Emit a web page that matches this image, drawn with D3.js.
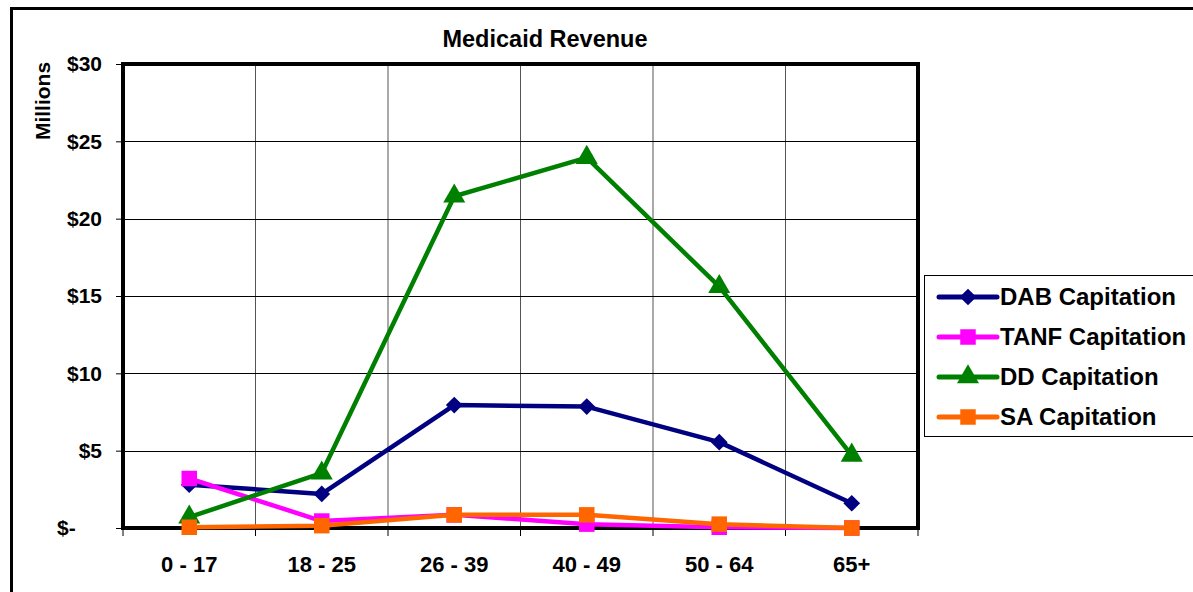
<!DOCTYPE html>
<html>
<head>
<meta charset="utf-8">
<script src="https://cdn.jsdelivr.net/npm/d3@7"></script>
<style>
  body { margin: 0; background: #fff; }
  text { font-family: Arial, "Liberation Sans", sans-serif; font-weight: bold; }
</style>
</head>
<body>
<div id="chart"></div>
<script>
// Data (values in millions of dollars)
var ageGroups = ["0 - 17", "18 - 25", "26 - 39", "40 - 49", "50 - 64", "65+"];
var dabValues = [2.8, 2.2, 7.95, 7.85, 5.55, 1.6];
var tanfValues = [3.2, 0.45, 0.85, 0.25, 0.05, 0.0];
var ddValues = [0.7, 3.55, 21.45, 23.95, 15.6, 4.7];
var saValues = [0.05, 0.15, 0.85, 0.85, 0.25, 0.0];
var seriesNames = ["DAB Capitation", "TANF Capitation", "DD Capitation", "SA Capitation"];
var yTicks = [0, 5, 10, 15, 20, 25, 30];

var svgWidth = 1193;
var svgHeight = 592;

var margin = { top: 64, left: 123 };
var width = 795;
var height = 464;

var svg = d3.select("#chart")
  .append("svg")
  .attr("width", svgWidth)
  .attr("height", svgHeight);

// outer chart border (cut off at the right and bottom)
svg.append("path")
  .attr("d", "M11.5," + svgHeight + "V8.5H" + svgWidth)
  .attr("fill", "none")
  .attr("stroke", "#000")
  .attr("stroke-width", 3);

var chartGroup = svg.append("g")
  .attr("transform", `translate(${margin.left}, ${margin.top})`);

var xScale = d3.scaleBand()
  .domain(ageGroups)
  .range([0, width]);

var yScale = d3.scaleLinear()
  .domain([0, 30])
  .range([height, 0]);

// vertical grid lines
chartGroup.append("g")
  .selectAll("line")
  .data(ageGroups.slice(1))
  .enter()
  .append("line")
  .attr("x1", d => xScale(d))
  .attr("x2", d => xScale(d))
  .attr("y1", 0)
  .attr("y2", height)
  .attr("stroke", "#555")
  .attr("stroke-width", 1);

// horizontal grid lines
chartGroup.append("g")
  .selectAll("line")
  .data(yTicks.slice(1, -1))
  .enter()
  .append("line")
  .attr("x1", 0)
  .attr("x2", width)
  .attr("y1", d => Math.round(yScale(d)) + 0.5)
  .attr("y2", d => Math.round(yScale(d)) + 0.5)
  .attr("stroke", "#000")
  .attr("stroke-width", 1);

// y axis
var leftAxis = d3.axisLeft(yScale)
  .tickValues(yTicks)
  .tickSize(6)
  .tickPadding(14)
  .tickFormat(d => d === 0 ? "$-" : "$" + d);

var yAxisG = chartGroup.append("g")
  .attr("transform", "translate(-1,0)")
  .call(leftAxis);
yAxisG.select(".domain").remove();
yAxisG.selectAll("line").attr("stroke", "#000");
yAxisG.selectAll("text")
  .attr("font-size", 21)
  .attr("fill", "#000")
  .attr("font-family", "Arial, 'Liberation Sans', sans-serif")
  .attr("font-weight", "bold");
yAxisG.selectAll(".tick")
  .filter(d => d === 0)
  .select("text")
  .attr("x", -65)
  .attr("text-anchor", "start");

// x axis tick marks at category boundaries
var xBounds = ageGroups.map(d => xScale(d)).concat([width]);
chartGroup.append("g")
  .selectAll("line")
  .data(xBounds)
  .enter()
  .append("line")
  .attr("x1", d => d)
  .attr("x2", d => d)
  .attr("y1", height)
  .attr("y2", height + 8)
  .attr("stroke", "#000")
  .attr("stroke-width", 1);

chartGroup.append("g")
  .selectAll("text")
  .data(ageGroups)
  .enter()
  .append("text")
  .attr("x", d => xScale(d) + xScale.bandwidth() / 2)
  .attr("y", height + 44)
  .attr("text-anchor", "middle")
  .attr("font-size", 22)
  .text(d => d);

// plot area frame
chartGroup.append("rect")
  .attr("x", 0)
  .attr("y", 0)
  .attr("width", width)
  .attr("height", height)
  .attr("fill", "none")
  .attr("stroke", "#000")
  .attr("stroke-width", 4);

// square turned 45 degrees, as the diamond marker in the picture
var wideDiamond = {
  draw: function (context, size) {
    var r = Math.sqrt(size / 2);
    context.moveTo(0, -r);
    context.lineTo(r, 0);
    context.lineTo(0, r);
    context.lineTo(-r, 0);
    context.closePath();
  }
};

// series
var series = [
  { name: seriesNames[0], values: dabValues, color: "#000080", symbol: wideDiamond, size: 140 },
  { name: seriesNames[1], values: tanfValues, color: "#FF00FF", symbol: d3.symbolSquare, size: 240 },
  { name: seriesNames[2], values: ddValues, color: "#008000", symbol: d3.symbolTriangle, size: 210 },
  { name: seriesNames[3], values: saValues, color: "#FF6600", symbol: d3.symbolSquare, size: 240 }
];

var line = d3.line()
  .x((d, i) => xScale(ageGroups[i]) + xScale.bandwidth() / 2)
  .y(d => yScale(d));

series.forEach(function (s) {
  var g = chartGroup.append("g");
  g.append("path")
    .datum(s.values)
    .attr("d", line)
    .attr("fill", "none")
    .attr("stroke", s.color)
    .attr("stroke-width", 4.5)
    .attr("stroke-linejoin", "round");
  g.selectAll("path.marker")
    .data(s.values)
    .enter()
    .append("path")
    .attr("class", "marker")
    .attr("transform", (d, i) => `translate(${xScale(ageGroups[i]) + xScale.bandwidth() / 2}, ${yScale(d)})`)
    .attr("d", d3.symbol().type(s.symbol).size(s.size))
    .attr("fill", s.color);
});

// title
svg.append("text")
  .attr("x", 545)
  .attr("y", 47)
  .attr("text-anchor", "middle")
  .attr("font-size", 23.5)
  .text("Medicaid Revenue");

// y axis label
svg.append("text")
  .attr("transform", "rotate(-90)")
  .attr("x", -101)
  .attr("y", 50)
  .attr("text-anchor", "middle")
  .attr("font-size", 21)
  .text("Millions");

// legend
var legend = svg.append("g")
  .attr("transform", "translate(924, 275)");

legend.append("rect")
  .attr("x", 0.5)
  .attr("y", 0.5)
  .attr("width", 290)
  .attr("height", 161)
  .attr("fill", "#fff")
  .attr("stroke", "#000")
  .attr("stroke-width", 1);

var legendItems = legend.selectAll("g.item")
  .data(series)
  .enter()
  .append("g")
  .attr("class", "item")
  .attr("transform", (d, i) => `translate(0, ${22 + i * 40})`);

legendItems.append("line")
  .attr("x1", 15)
  .attr("x2", 73)
  .attr("y1", 0)
  .attr("y2", 0)
  .attr("stroke", d => d.color)
  .attr("stroke-width", 5)
  .attr("stroke-linecap", "round");

legendItems.append("path")
  .attr("transform", "translate(44,0)")
  .attr("d", d => d3.symbol().type(d.symbol).size(d.size)())
  .attr("fill", d => d.color);

legendItems.append("text")
  .attr("x", 76)
  .attr("y", 8)
  .attr("font-size", 24)
  .text(d => d.name);
</script>
</body>
</html>
